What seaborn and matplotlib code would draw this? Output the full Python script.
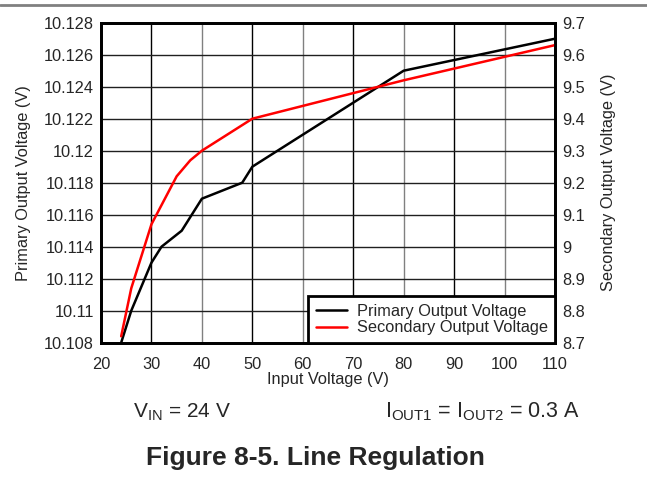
import pandas as pd
import matplotlib
matplotlib.use("Agg")
import matplotlib.pyplot as plt
import seaborn as sns
from matplotlib.lines import Line2D

# values
vin_primary = [24, 26, 30, 32, 36, 40, 48, 50, 80, 110]
v_primary = [10.108, 10.110, 10.113, 10.114, 10.115, 10.117, 10.118, 10.119, 10.125, 10.127]

vin_secondary = [24, 26, 30, 32, 35, 37.7, 40, 50, 80, 110]
v_secondary = [8.72, 8.87, 9.07, 9.13, 9.22, 9.27, 9.30, 9.40, 9.52, 9.63]

x_ticks = [20, 30, 40, 50, 60, 70, 80, 90, 100, 110]
left_ticks = [10.108, 10.11, 10.112, 10.114, 10.116, 10.118, 10.12, 10.122, 10.124, 10.126, 10.128]
left_labels = ["10.108", "10.11", "10.112", "10.114", "10.116", "10.118", "10.12",
               "10.122", "10.124", "10.126", "10.128"]
right_ticks = [8.7, 8.8, 8.9, 9.0, 9.1, 9.2, 9.3, 9.4, 9.5, 9.6, 9.7]
right_labels = ["8.7", "8.8", "8.9", "9", "9.1", "9.2", "9.3", "9.4", "9.5", "9.6", "9.7"]

df1 = pd.DataFrame({"vin": vin_primary, "v": v_primary})
df2 = pd.DataFrame({"vin": vin_secondary, "v": v_secondary})

sns.set_style("white")
plt.rcParams["font.family"] = ["Liberation Sans", "DejaVu Sans"]
plt.rcParams["mathtext.fontset"] = "custom"
plt.rcParams["mathtext.rm"] = "Liberation Sans"

fs = 11.8

fig = plt.figure(figsize=(6.47, 4.97), dpi=100)
ax = fig.add_axes([0.1561, 0.3105, 0.7017, 0.6438])
ax2 = ax.twinx()

sns.lineplot(data=df1, x="vin", y="v", ax=ax, color="black", lw=1.8)
sns.lineplot(data=df2, x="vin", y="v", ax=ax2, color="#ff0000", lw=1.8)

ax.set_xlim(20, 110)
ax.set_ylim(10.108, 10.128)
ax2.set_ylim(8.7, 9.7)
ax.set_xticks(x_ticks)
ax.set_yticks(left_ticks)
ax.set_yticklabels(left_labels)
ax2.set_yticks(right_ticks)
ax2.set_yticklabels(right_labels)

# grid: alternating dark / gray lines like the datasheet
for i, xv in enumerate(x_ticks[1:-1]):
    ax.axvline(xv, color="black" if i % 2 == 0 else "#808080", lw=1, zorder=0)
for yv in left_ticks[1:-1]:
    ax.axhline(yv, color="#202020", lw=1, zorder=0)

ax.tick_params(axis="y", length=0, labelsize=fs, pad=5)
ax.tick_params(axis="x", length=0, labelsize=fs, pad=10)
ax2.tick_params(axis="y", length=0, labelsize=fs, pad=5)
for a in (ax, ax2):
    for s in a.spines.values():
        s.set_linewidth(2)
        s.set_color("black")

ax.set_xlabel("Input Voltage (V)", fontsize=fs, labelpad=0)
ax.set_ylabel("Primary Output Voltage (V)", fontsize=fs, labelpad=9)
ax2.set_ylabel("Secondary Output Voltage (V)", fontsize=fs, labelpad=12)

handles = [Line2D([], [], color="black", lw=1.8), Line2D([], [], color="#ff0000", lw=1.8)]
leg = ax2.legend(handles, ["Primary Output Voltage", "Secondary Output Voltage"],
                 loc="lower right", fontsize=fs, frameon=True, fancybox=False,
                 borderaxespad=0, handlelength=1.9, handletextpad=0.6,
                 borderpad=0.45, labelspacing=0.1)
leg.get_frame().set_edgecolor("black")
leg.get_frame().set_linewidth(2)
leg.get_frame().set_alpha(1)

fig.add_artist(Line2D([0, 1], [0.99, 0.99], color="#808080", lw=2))
fig.text(0.2056, 0.171, r"V$_{\mathrm{IN}}$ = 24 V", fontsize=15, ha="left", va="center")
fig.text(0.595, 0.171, r"I$_{\mathrm{OUT1}}$ = I$_{\mathrm{OUT2}}$ = 0.3 A", fontsize=15.5,
         ha="left", va="center")
fig.text(0.487, 0.0785, "Figure 8-5. Line Regulation", fontsize=19, fontweight="bold",
         ha="center", va="center")

fig.savefig("out.png", dpi=100)
